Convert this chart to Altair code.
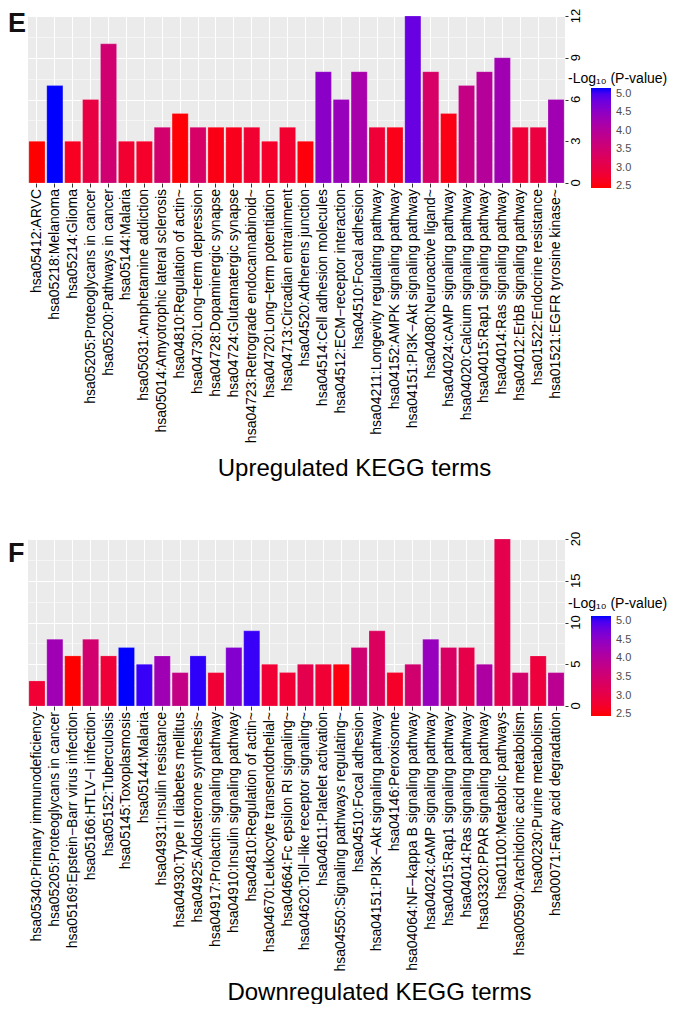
import altair as alt
import pandas as pd

# ---------------- data ----------------
E_terms = [
    "hsa05412:ARVC",
    "hsa05218:Melanoma",
    "hsa05214:Glioma",
    "hsa05205:Proteoglycans in cancer",
    "hsa05200:Pathways in cancer",
    "hsa05144:Malaria",
    "hsa05031:Amphetamine addiction",
    "hsa05014:Amyotrophic lateral sclerosis",
    "hsa04810:Regulation of actin~",
    "hsa04730:Long\u2212term depression",
    "hsa04728:Dopaminergic synapse",
    "hsa04724:Glutamatergic synapse",
    "hsa04723:Retrograde endocannabinoid~",
    "hsa04720:Long\u2212term potentiation",
    "hsa04713:Circadian entrainment",
    "hsa04520:Adherens junction",
    "hsa04514:Cell adhesion molecules",
    "hsa04512:ECM\u2212receptor interaction",
    "hsa04510:Focal adhesion",
    "hsa04211:Longevity regulating pathway",
    "hsa04152:AMPK signaling pathway",
    "hsa04151:PI3K\u2212Akt signaling pathway",
    "hsa04080:Neuroactive ligand~",
    "hsa04024:cAMP signaling pathway",
    "hsa04020:Calcium signaling pathway",
    "hsa04015:Rap1 signaling pathway",
    "hsa04014:Ras signaling pathway",
    "hsa04012:ErbB signaling pathway",
    "hsa01522:Endocrine resistance",
    "hsa01521:EGFR tyrosine kinase~",
]
E_count = [3, 7, 3, 6, 10, 3, 3, 4, 5, 4, 4, 4, 4, 3, 4, 3, 8, 6, 8, 4, 4, 12, 8, 5, 7, 8, 9, 4, 4, 6]
E_logp = [2.45, 5.16, 2.64, 2.99, 3.53, 2.78, 2.72, 3.48, 2.47, 3.40, 2.55, 2.60, 2.80, 2.72, 2.78,
          2.50, 4.54, 4.40, 4.20, 2.85, 2.58, 4.83, 3.40, 2.55, 3.75, 4.00, 4.30, 2.85, 2.95, 4.30]

F_terms = [
    "hsa05340:Primary immunodeficiency",
    "hsa05205:Proteoglycans in cancer",
    "hsa05169:Epstein\u2212Barr virus infection",
    "hsa05166:HTLV\u2212I infection",
    "hsa05152:Tuberculosis",
    "hsa05145:Toxoplasmosis",
    "hsa05144:Malaria",
    "hsa04931:Insulin resistance",
    "hsa04930:Type II diabetes mellitus",
    "hsa04925:Aldosterone synthesis~",
    "hsa04917:Prolactin signaling pathway",
    "hsa04910:Insulin signaling pathway",
    "hsa04810:Regulation of actin~",
    "hsa04670:Leukocyte transendothelial~",
    "hsa04664:Fc epsilon RI signaling~",
    "hsa04620:Toll\u2212like receptor signaling~",
    "hsa04611:Platelet activation",
    "hsa04550:Signaling pathways regulating~",
    "hsa04510:Focal adhesion",
    "hsa04151:PI3K\u2212Akt signaling pathway",
    "hsa04146:Peroxisome",
    "hsa04064:NF\u2212kappa B signaling pathway",
    "hsa04024:cAMP signaling pathway",
    "hsa04015:Rap1 signaling pathway",
    "hsa04014:Ras signaling pathway",
    "hsa03320:PPAR signaling pathway",
    "hsa01100:Metabolic pathways",
    "hsa00590:Arachidonic acid metabolism",
    "hsa00230:Purine metabolism",
    "hsa00071:Fatty acid degradation",
]
F_count = [3, 8, 6, 8, 6, 7, 5, 6, 4, 6, 4, 7, 9, 5, 4, 5, 5, 5, 7, 9, 4, 5, 8, 7, 7, 5, 20, 4, 6, 4]
F_logp = [2.82, 4.30, 2.45, 3.48, 2.85, 5.14, 5.05, 4.30, 3.75, 5.08, 2.82, 4.60, 5.05, 2.83, 2.83,
          3.10, 2.83, 2.52, 3.53, 3.30, 2.70, 3.50, 4.40, 3.35, 3.05, 4.10, 3.10, 3.45, 2.90, 3.90]

E_major = [0, 3, 6, 9, 12]
E_minor = [1.5, 4.5, 7.5, 10.5]
F_major = [0, 5, 10, 15, 20]
F_minor = [2.5, 7.5, 12.5, 17.5]
legend_values = [2.5, 3.0, 3.5, 4.0, 4.5, 5.0]
legend_title = "-Log\u2081\u2080 (P-value)"

FONT = "Liberation Sans"
PLOT_W = 537
PLOT_H = 167
XLAB_SIZE = 14
YLAB_SIZE = 13


def panel(terms, counts, logp, letter, letter_y, major, minor, title, title_x, title_y,
          leg_title_y, leg_y):
    df = pd.DataFrame({"term": terms, "count": counts, "logp": logp})
    ymax = major[-1]
    xscale = alt.Scale(paddingInner=0.1, paddingOuter=0.05)
    xaxis = alt.Axis(
        title=title, titleFont=FONT, titleFontSize=24, titleFontWeight="normal",
        titleColor="#000000", titleX=title_x, titleY=title_y, titleAlign="center",
        titleBaseline="alphabetic",
        labels=False,
        tickColor="#333333", tickSize=4, tickWidth=1,
        domain=False, grid=True, gridColor="white", gridWidth=1.1, bandPosition=0.5,
    )
    yscale = alt.Scale(domain=[0, ymax], nice=False, zero=True)
    x = alt.X("term:N", sort=terms, scale=xscale, axis=xaxis)

    minor_layer = alt.Chart(df).mark_bar(opacity=0).encode(
        x=x,
        y=alt.Y("count:Q", scale=yscale, axis=alt.Axis(
            orient="left", values=minor, labels=False, ticks=False, domain=False,
            grid=True, gridColor="white", gridWidth=0.5, title=None,
            minExtent=0, maxExtent=0)),
    )
    bars = alt.Chart(df).mark_bar(stroke="white", strokeWidth=0.5, strokeOpacity=0.4).encode(
        x=x,
        y=alt.Y("count:Q", scale=yscale, axis=alt.Axis(
            orient="right", values=major, title=None, labels=False,
            tickColor="#333333", tickSize=3, domain=False,
            grid=True, gridColor="white", gridWidth=1.1, minExtent=0)),
        color=alt.Color("logp:Q",
                        scale=alt.Scale(domain=[min(logp), max(logp)],
                                        range=["#FF0000", "#0000FF"],
                                        interpolate="lab", nice=False, zero=False),
                        legend=alt.Legend(
                            title=None, orient="none",
                            legendX=563, legendY=leg_y, direction="vertical",
                            gradientLength=100, gradientThickness=20,
                            gradientStrokeWidth=0, padding=0,
                            values=legend_values, format=".1f",
                            labelFont=FONT, labelFontSize=11, labelColor="#4D4D4D",
                            labelOffset=5)),
    )
    # category labels under the bars (rotated, reading upwards)
    xlabels = alt.Chart(df).mark_text(
        font=FONT, fontSize=XLAB_SIZE, angle=270, align="right", baseline="middle",
        color="#000000",
    ).encode(x=x, y=alt.value(PLOT_H + 6), text="term:N")

    # value labels of the right axis
    tick_df = pd.DataFrame({"count": major, "lab": [str(v) for v in major]})
    ylabels = alt.Chart(tick_df).mark_text(
        font=FONT, fontSize=YLAB_SIZE, angle=270, align="center", baseline="top",
        color="#000000",
    ).encode(y=alt.Y("count:Q", scale=yscale, axis=None), x=alt.value(PLOT_W + 5),
             text="lab:N")

    letter_layer = alt.Chart(pd.DataFrame({"t": [letter]})).mark_text(
        font=FONT, fontSize=27, fontWeight="bold", align="left", baseline="top",
        color="#111111",
    ).encode(text="t:N", x=alt.value(-20), y=alt.value(letter_y))

    legend_title_layer = alt.Chart(pd.DataFrame({"t": [legend_title]})).mark_text(
        font=FONT, fontSize=14, align="left", baseline="alphabetic", color="#000000",
    ).encode(text="t:N", x=alt.value(540), y=alt.value(leg_title_y))

    return alt.layer(minor_layer, bars, xlabels, ylabels, letter_layer,
                     legend_title_layer).resolve_axis(
        y="independent").properties(width=PLOT_W, height=PLOT_H)


E = panel(E_terms, E_count, E_logp, "E", -5, E_major, E_minor,
          "Upregulated KEGG terms", 326, 292, 67, 72)
F = panel(F_terms, F_count, F_logp, "F", 2, F_major, F_minor,
          "Downregulated KEGG terms", 351, 293, 69, 77)

chart = alt.vconcat(E, F, spacing=51).resolve_scale(color="independent").properties(
    padding=0
).configure_view(
    fill="#EBEBEB", stroke=None
).configure_legend(
    labelFont=FONT, labelFontSize=11, padding=0
)

chart.save("out.html", embed_options={"renderer": "svg", "actions": False})
